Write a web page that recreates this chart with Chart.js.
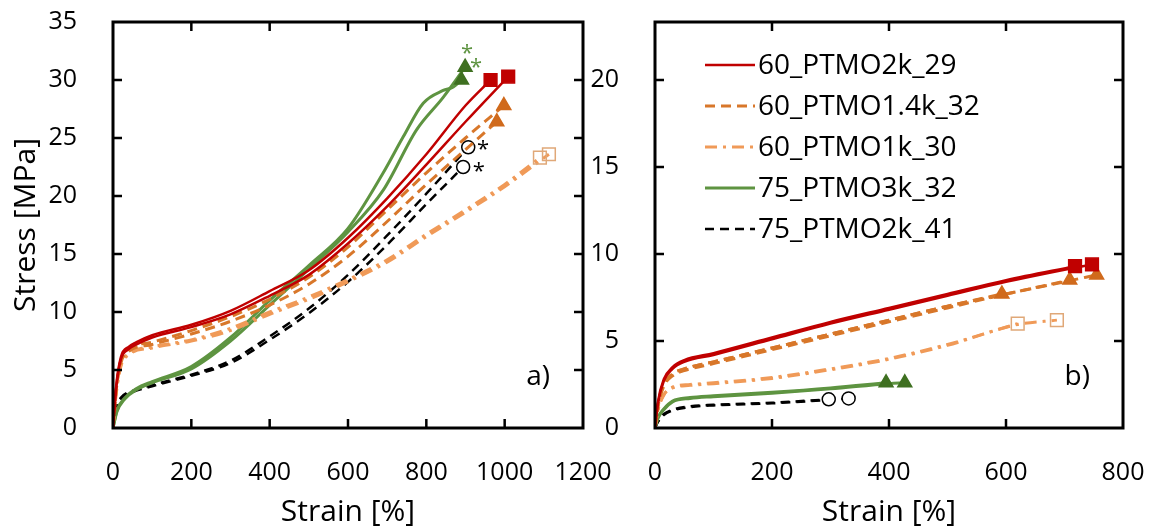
<!DOCTYPE html>
<html>
<head>
<meta charset="utf-8">
<script src="https://cdn.jsdelivr.net/npm/chart.js@4.4.1/dist/chart.umd.min.js"></script>
<style>
  html, body { margin: 0; padding: 0; background: #fff; }
  #wrap { position: relative; width: 1154px; height: 532px; overflow: hidden; }
  canvas { position: absolute; top: 0; }
  #chartA { left: 0; }
  #chartB { left: 590px; }
</style>
</head>
<body>
<div id="wrap">
  <canvas id="chartA" width="620" height="532"></canvas>
  <canvas id="chartB" width="564" height="532"></canvas>
</div>
<script>
// ---- data ----
const sampleNames = ['60_PTMO2k_29', '60_PTMO1.4k_32', '60_PTMO1k_30', '75_PTMO3k_32', '75_PTMO2k_41'];

const strainTicksA = [0, 200, 400, 600, 800, 1000, 1200];
const stressTicksA = [0, 5, 10, 15, 20, 25, 30, 35];
const strainTicksB = [0, 200, 400, 600, 800];
const stressTicksB = [0, 5, 10, 15, 20];

// panel a)
const aRed1Strain = [0, 8, 20, 40, 60, 100, 200, 300, 400, 500, 600, 700, 800, 900, 964];
const aRed1Stress = [0, 3.6, 6.1, 7.0, 7.4, 8.0, 8.9, 10.1, 11.8, 13.6, 16.4, 19.8, 23.6, 27.8, 30.0];
const aRed2Strain = [0, 8, 20, 40, 60, 100, 200, 300, 400, 500, 600, 700, 800, 900, 1009];
const aRed2Stress = [0, 3.4, 5.9, 6.8, 7.2, 7.8, 8.7, 9.8, 11.4, 13.2, 15.9, 19.1, 22.7, 26.4, 30.3];

const aOr1Strain = [0, 8, 20, 40, 100, 200, 300, 400, 500, 600, 700, 800, 900, 998];
const aOr1Stress = [0, 3.3, 5.8, 6.8, 7.4, 8.4, 9.6, 11.1, 13.0, 15.6, 18.8, 22.0, 25.0, 27.8];
const aOr2Strain = [0, 8, 20, 40, 100, 200, 300, 400, 500, 600, 700, 800, 900, 980];
const aOr2Stress = [0, 3.2, 5.6, 6.6, 7.2, 8.1, 9.2, 10.6, 12.4, 14.8, 17.8, 21.0, 24.0, 26.4];

const aDd1Strain = [0, 8, 20, 40, 100, 200, 300, 400, 500, 600, 700, 800, 900, 1000, 1090];
const aDd1Stress = [0, 3.0, 5.4, 6.4, 7.0, 7.6, 8.6, 10.0, 11.3, 12.8, 14.5, 16.7, 18.8, 21.0, 23.3];
const aDd2Strain = [0, 8, 20, 40, 100, 200, 300, 400, 500, 600, 700, 800, 900, 1000, 1113];
const aDd2Stress = [0, 2.9, 5.3, 6.3, 6.9, 7.5, 8.4, 9.8, 11.1, 12.6, 14.3, 16.5, 18.6, 20.8, 23.6];

const aGr1Strain = [0, 10, 30, 60, 100, 200, 300, 400, 500, 600, 690, 741, 792, 843, 869, 890];
const aGr1Stress = [0, 1.5, 2.6, 3.4, 4.0, 5.3, 7.8, 11.0, 14.0, 17.2, 22.0, 25.1, 28.0, 29.1, 29.4, 30.0];
const aGr2Strain = [0, 10, 30, 60, 100, 200, 300, 400, 500, 600, 690, 775, 843, 899];
const aGr2Stress = [0, 1.4, 2.5, 3.3, 3.9, 5.1, 7.5, 10.6, 13.7, 16.9, 20.5, 25.7, 28.5, 31.1];

const aBk1Strain = [0, 8, 20, 50, 100, 200, 300, 400, 500, 600, 700, 800, 907];
const aBk1Stress = [0, 1.8, 2.6, 3.2, 3.7, 4.6, 5.8, 7.9, 10.3, 13.2, 16.6, 20.2, 24.2];
const aBk2Strain = [0, 8, 20, 50, 100, 200, 300, 400, 500, 600, 700, 800, 894];
const aBk2Stress = [0, 1.7, 2.5, 3.1, 3.6, 4.5, 5.6, 7.6, 9.9, 12.6, 15.8, 19.3, 22.5];

// panel b)
const bRed1Strain = [0, 5, 15, 30, 50, 100, 200, 300, 400, 500, 600, 718];
const bRed1Stress = [0, 1.5, 2.8, 3.5, 3.9, 4.3, 5.2, 6.1, 6.9, 7.7, 8.5, 9.3];
const bRed2Strain = [0, 5, 15, 30, 50, 100, 200, 300, 400, 500, 600, 700, 747];
const bRed2Stress = [0, 1.4, 2.7, 3.4, 3.8, 4.2, 5.1, 6.0, 6.8, 7.6, 8.4, 9.1, 9.4];

const bOr1Strain = [0, 5, 15, 30, 50, 100, 200, 300, 400, 500, 593];
const bOr1Stress = [0, 1.3, 2.5, 3.1, 3.4, 3.8, 4.6, 5.4, 6.2, 7.0, 7.7];
const bOr2Strain = [0, 5, 15, 30, 50, 100, 200, 300, 400, 500, 600, 709];
const bOr2Stress = [0, 1.3, 2.5, 3.1, 3.4, 3.8, 4.6, 5.4, 6.2, 7.0, 7.7, 8.5];
const bOr3Strain = [0, 5, 15, 30, 50, 100, 200, 300, 400, 500, 600, 700, 755];
const bOr3Stress = [0, 1.2, 2.4, 3.0, 3.3, 3.7, 4.5, 5.3, 6.1, 6.9, 7.7, 8.4, 8.8];

const bDd1Strain = [0, 5, 15, 30, 60, 100, 200, 300, 400, 500, 620];
const bDd1Stress = [0, 1.0, 1.9, 2.35, 2.5, 2.6, 2.9, 3.4, 4.0, 4.8, 6.0];
const bDd2Strain = [0, 5, 15, 30, 60, 100, 200, 300, 400, 500, 620, 687];
const bDd2Stress = [0, 1.0, 1.9, 2.3, 2.45, 2.55, 2.85, 3.35, 3.95, 4.75, 5.95, 6.2];

const bGr1Strain = [0, 5, 15, 30, 60, 100, 200, 300, 395];
const bGr1Stress = [0, 0.6, 1.1, 1.55, 1.75, 1.85, 2.05, 2.3, 2.6];
const bGr2Strain = [0, 5, 15, 30, 60, 100, 200, 300, 400, 427];
const bGr2Stress = [0, 0.55, 1.05, 1.5, 1.7, 1.8, 2.0, 2.25, 2.55, 2.6];

const bBk1Strain = [0, 5, 15, 30, 60, 100, 200, 297];
const bBk1Stress = [0, 0.4, 0.8, 1.05, 1.25, 1.33, 1.45, 1.65];
const bBk2Strain = [0, 5, 15, 30, 60, 100, 200, 300, 331];
const bBk2Stress = [0, 0.35, 0.75, 1.0, 1.2, 1.3, 1.42, 1.62, 1.7];

// asterisks next to some break points (strain, stress)
const starStrainA = [904, 927, 945, 934];
const starStressA = [32.7, 31.5, 24.4, 22.5];
const starSampleA = [3, 3, 4, 4];

// ---- styles ----
const sampleStyle = [
  { color: '#C00000', width: 2.5, dash: [], marker: 'rect', size: 9, fill: '#C00000', stroke: '#C00000' },
  { color: '#D8772A', width: 3, dash: [10, 6], marker: 'triangle', size: 8, fill: '#D06A1C', stroke: '#D06A1C' },
  { color: '#F09A58', width: 3, dash: [12, 6, 3, 6], marker: 'rect', size: 9, fill: 'rgba(255,255,255,0)', stroke: '#E0A878' },
  { color: '#5E9441', width: 3, dash: [], marker: 'triangle', size: 8, fill: '#3F7021', stroke: '#3F7021' },
  { color: '#000000', width: 2.5, dash: [9, 6], marker: 'circle', size: 6.5, fill: '#ffffff', stroke: '#000000' }
];

Chart.defaults.font.family = '"Open Sans", sans-serif';
Chart.defaults.color = '#000';

function makeDataset(sample, strain, stress) {
  const st = sampleStyle[sample];
  const last = strain.length - 1;
  return {
    label: sampleNames[sample],
    data: strain.map((v, i) => ({ x: v, y: stress[i] })),
    borderColor: st.color,
    borderWidth: st.width,
    borderDash: st.dash,
    fill: false,
    cubicInterpolationMode: 'monotone',
    pointStyle: st.marker,
    pointRadius: ctx => ctx.dataIndex === last ? st.size : 0,
    pointBackgroundColor: st.fill,
    pointBorderColor: st.stroke,
    pointBorderWidth: 1.5
  };
}

const framePlugin = {
  id: 'frame',
  afterDraw(chart, args, opts) {
    const { ctx, chartArea: { left, right, top, bottom }, scales: { x, y } } = chart;
    ctx.save();
    ctx.strokeStyle = '#000';
    ctx.lineWidth = 3;
    ctx.strokeRect(left, top, right - left, bottom - top);
    ctx.lineWidth = 2.5;
    ctx.beginPath();
    x.ticks.forEach(t => {
      if (t.value <= x.min || t.value >= x.max) return;
      const px = x.getPixelForValue(t.value);
      ctx.moveTo(px, bottom); ctx.lineTo(px, bottom - 9);
      ctx.moveTo(px, top); ctx.lineTo(px, top + 9);
    });
    y.ticks.forEach(t => {
      if (t.value <= y.min || t.value >= y.max) return;
      const py = y.getPixelForValue(t.value);
      ctx.moveTo(left, py); ctx.lineTo(left + 9, py);
      ctx.moveTo(right, py); ctx.lineTo(right - 9, py);
    });
    ctx.stroke();

    // panel tag
    ctx.font = '28px "Open Sans"';
    ctx.fillStyle = '#000';
    ctx.textAlign = 'right';
    ctx.textBaseline = 'middle';
    ctx.fillText(opts.tag, right - 33, bottom - 51);

    // asterisks
    if (opts.stars) {
      ctx.font = '22px "Open Sans"';
      ctx.textAlign = 'center';
      opts.stars.strain.forEach((s, i) => {
        ctx.fillStyle = sampleStyle[opts.stars.sample[i]].color;
        ctx.fillText('*', x.getPixelForValue(s), y.getPixelForValue(opts.stars.stress[i]) + 5);
      });
    }

    // legend
    if (opts.legend) {
      ctx.font = '28px "Open Sans"';
      ctx.textAlign = 'left';
      sampleNames.forEach((name, i) => {
        const st = sampleStyle[i];
        const ly = top + 43 + i * 41;
        ctx.strokeStyle = st.color;
        ctx.lineWidth = st.width;
        ctx.setLineDash(st.dash);
        ctx.beginPath();
        ctx.moveTo(left + 50, ly);
        ctx.lineTo(left + 100, ly);
        ctx.stroke();
        ctx.setLineDash([]);
        ctx.fillStyle = '#000';
        ctx.fillText(name, left + 103, ly + 1);
      });
    }
    ctx.restore();
  }
};

function buildChart(id, cfg) {
  return new Chart(document.getElementById(id), {
    type: 'line',
    data: { datasets: cfg.curves.map(c => makeDataset(c[0], c[1], c[2])) },
    options: {
      responsive: false,
      animation: false,
      events: [],
      layout: { padding: { top: 22, right: cfg.padRight, left: 0, bottom: 0 } },
      plugins: {
        legend: { display: false },
        tooltip: { enabled: false },
        frame: { tag: cfg.tag, legend: cfg.legend, stars: cfg.stars }
      },
      scales: {
        x: {
          type: 'linear',
          min: 0,
          max: cfg.xMax,
          afterBuildTicks: s => { s.ticks = cfg.xTicks.map(v => ({ value: v })); },
          afterFit: s => { s.height = 104; s.paddingLeft = 0; s.paddingRight = 0; },
          grid: { display: false, drawTicks: false },
          border: { display: false },
          ticks: { autoSkip: false, maxRotation: 0, padding: 30, font: { size: 25 }, color: '#000', callback: v => String(v) },
          title: { display: true, text: 'Strain [%]', font: { size: 30 }, color: '#000', padding: { top: 0, bottom: 2 } }
        },
        y: {
          min: 0,
          max: cfg.yMax,
          afterBuildTicks: s => { s.ticks = cfg.yTicks.map(v => ({ value: v })); },
          afterFit: s => { s.width = cfg.yWidth; s.paddingTop = 0; s.paddingBottom = 0; },
          grid: { display: false, drawTicks: false },
          border: { display: false },
          ticks: { padding: 36, font: { size: 25 }, color: '#000', callback: v => String(v) },
          title: { display: cfg.yTitle, text: 'Stress [MPa]', font: { size: 30 }, color: '#000', padding: { top: 8, bottom: 0 } }
        }
      }
    },
    plugins: [framePlugin]
  });
}

buildChart('chartA', {
  xMax: 1200, yMax: 35, xTicks: strainTicksA, yTicks: stressTicksA,
  yWidth: 113, padRight: 37, yTitle: true, tag: 'a)', legend: false,
  stars: { strain: starStrainA, stress: starStressA, sample: starSampleA },
  curves: [
    [0, aRed1Strain, aRed1Stress], [0, aRed2Strain, aRed2Stress],
    [1, aOr1Strain, aOr1Stress], [1, aOr2Strain, aOr2Stress],
    [2, aDd1Strain, aDd1Stress], [2, aDd2Strain, aDd2Stress],
    [3, aGr1Strain, aGr1Stress], [3, aGr2Strain, aGr2Stress],
    [4, aBk1Strain, aBk1Stress], [4, aBk2Strain, aBk2Stress]
  ]
});

buildChart('chartB', {
  xMax: 800, yMax: 35 / 1.5, xTicks: strainTicksB, yTicks: stressTicksB,
  yWidth: 65, padRight: 31, yTitle: false, tag: 'b)', legend: true,
  curves: [
    [0, bRed1Strain, bRed1Stress], [0, bRed2Strain, bRed2Stress],
    [1, bOr1Strain, bOr1Stress], [1, bOr2Strain, bOr2Stress], [1, bOr3Strain, bOr3Stress],
    [2, bDd1Strain, bDd1Stress], [2, bDd2Strain, bDd2Stress],
    [3, bGr1Strain, bGr1Stress], [3, bGr2Strain, bGr2Stress],
    [4, bBk1Strain, bBk1Stress], [4, bBk2Strain, bBk2Stress]
  ]
});
</script>
</body>
</html>
